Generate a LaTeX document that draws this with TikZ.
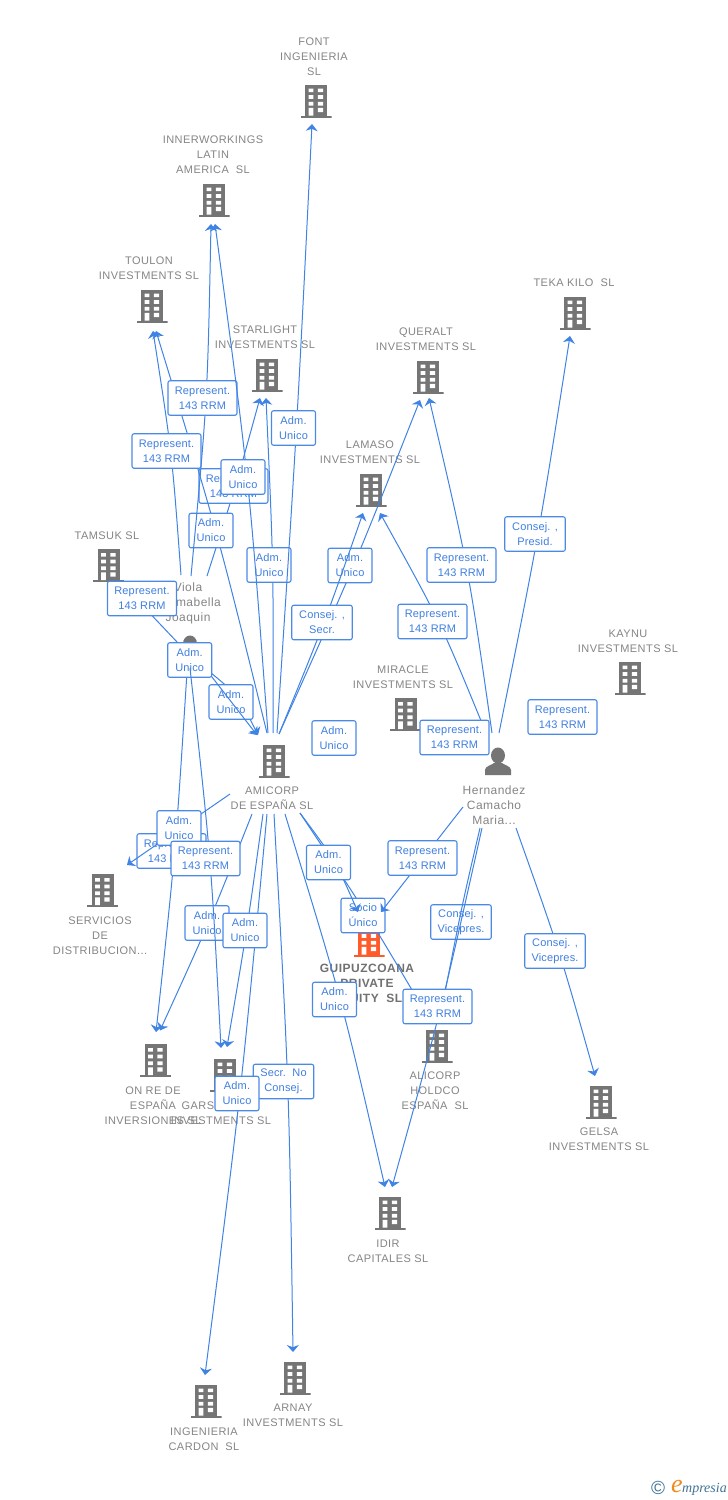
\documentclass[tikz,border=0pt]{standalone}
\usepackage{fontspec}
\usetikzlibrary{arrows.meta}
\setmainfont{Liberation Sans}
\newfontfamily\lblfont[LetterSpace=4]{Liberation Sans}
\newfontfamily\boxfont[LetterSpace=1.5]{Liberation Sans}
\newfontfamily\logofont{Liberation Serif}
\definecolor{edgeblue}{HTML}{3F83E4}
\definecolor{boxedge}{HTML}{4A8AE6}
\definecolor{boxtext}{HTML}{3F7FE0}
\definecolor{lblgray}{HTML}{858585}
\definecolor{icongray}{HTML}{757575}
\definecolor{iconred}{HTML}{FF5A2B}
\definecolor{logoteal}{HTML}{3F7396}
\definecolor{logoorange}{HTML}{F08A1D}
\tikzset{
  edge/.style={draw=edgeblue,line width=1pt,-{Stealth[length=7pt,width=12pt,inset=2.2pt]}},
  boxa/.style={draw=boxedge,line width=1.1pt,fill=white,rounded corners=2pt,inner sep=0pt,
    minimum height=34.5pt,align=center,text=boxtext,font=\boxfont\fontsize{11}{15}\selectfont,
    execute at begin node={\rule{0pt}{10pt}}},
  rep/.style={boxa,minimum width=69pt},
  adm/.style={boxa,minimum width=44pt},
  cons/.style={boxa,minimum width=60.5pt},
  lbl/.style={yshift=-1pt,text=lblgray,align=center,inner sep=0pt,font=\lblfont\fontsize{11}{15}\selectfont},
  lblp/.style={yshift=-1pt,text=lblgray,align=center,inner sep=0pt,font=\lblfont\fontsize{12}{15}\selectfont},
  lblb/.style={yshift=-1pt,text=lblgray!85!black,align=center,inner sep=0pt,font=\lblfont\bfseries\fontsize{12}{15}\selectfont},
  bicon/.style={minimum width=31pt,minimum height=33pt,inner sep=0pt,path picture={
    \fill[#1] (-11,-16.5) rectangle (11,14.5);
    \fill[#1] (-15.5,14.5) rectangle (15.5,16.5);
    \fill[white] (-7.3,-12.5) rectangle (-2.7,-8.8) (1.9,-12.5) rectangle (7,-8.8)
                 (-7.3,-5.8) rectangle (-2.7,-2.2) (1.9,-5.8) rectangle (7,-2.2)
                 (-7.3,0.8) rectangle (-2.7,4.5) (1.9,0.8) rectangle (7,4.5)
                 (-7.3,6.8) rectangle (-2.7,14.5) (1.9,6.8) rectangle (7,11.2);
  }},
  bicon/.default=icongray,
  picon/.style={minimum width=27pt,minimum height=28pt,inner sep=0pt,path picture={
    \fill[icongray] (0,-5.5) ellipse (7 and 8);
    \fill[icongray] (-13,14) -- (-13,9) .. controls (-13,5) and (-6,4) .. (-4,2) -- (4,2)
       .. controls (6,4) and (13,5) .. (13,9) -- (13,14) -- cycle;
  }},
}
\begin{document}
\begin{tikzpicture}[x=1pt,y=-1pt]
\useasboundingbox (0,0) rectangle (728,1500);
\fill[white] (0,0) rectangle (728,1500);
% ---- entities
\node[bicon] (font) at (316,101) {};
\node[bicon] (inner) at (214,200) {};
\node[bicon] (toulon) at (152,306) {};
\node[bicon] (teka) at (575,313) {};
\node[bicon] (star) at (267,375) {};
\node[bicon] (quer) at (428,377) {};
\node[bicon] (lama) at (371,490) {};
\node[bicon] (tams) at (108.5,565.5) {};
\node[bicon] (kay) at (630,678) {};
\node[bicon] (mirac) at (405.5,714.5) {};
\node[bicon] (am) at (274,761) {};
\node[bicon] (serv) at (102.5,890.5) {};
\node[bicon=iconred] (guip) at (369,940) {};
\node[bicon] (alic) at (437,1046) {};
\node[bicon] (onre) at (155.5,1060.5) {};
\node[bicon] (gars) at (225,1075) {};
\node[bicon] (gelsa) at (601,1102) {};
\node[bicon] (idir) at (390,1213) {};
\node[bicon] (ingen) at (206,1401) {};
\node[bicon] (arnay) at (295,1378) {};
\node[picon] (viola) at (190,649) {};
\node[picon] (hern) at (498,761) {};
% ---- texts
\node[lbl] (tfont) at (314,56) {FONT\\INGENIERIA\\SL};
\node[lbl] (tinner) at (213,154) {INNERWORKINGS\\LATIN\\AMERICA~~SL};
\node[lbl] (ttoulon) at (149,267.5) {TOULON\\INVESTMENTS SL};
\node[lbl] (tteka) at (574,282) {TEKA KILO~~SL};
\node[lbl] (tstar) at (265,336.5) {STARLIGHT\\INVESTMENTS SL};
\node[lbl] (tquer) at (426,338.5) {QUERALT\\INVESTMENTS SL};
\node[lbl] (tlama) at (370,451.5) {LAMASO\\INVESTMENTS SL};
\node[lbl] (ttams) at (107,535) {TAMSUK SL};
\node[lblp] (tviola) at (188,602) {Viola\\\phantom{Xxx}mabella\\Joaquin};
\node[lbl] (tkay) at (628,640.5) {KAYNU\\INVESTMENTS SL};
\node[lbl] (tmirac) at (403,676.5) {MIRACLE\\INVESTMENTS SL};
\node[lbl] (tam) at (272,797.5) {AMICORP\\DE ESPAÑA SL};
\node[lblp] (them) at (494,804) {Hernandez\\Camacho\\Maria...};
\node[lbl] (tserv) at (100,935) {SERVICIOS\\DE\\DISTRIBUCION...};
\node[lblb] (tguip) at (367,983) {GUIPUZCOANA\\PRIVATE\\EQUITY~~SL};
\node[lbl] (talic) at (435,1090) {ALICORP\\HOLDCO\\ESPAÑA~~SL};
\node[lbl] (tonre) at (153,1105) {ON RE DE\\ESPAÑA\\INVERSIONES SL};
\node[lbl] (tgars) at (221,1112.5) {GARS\phantom{XXXXXX}\\INVESTMENTS SL};
\node[lbl] (tgelsa) at (599,1138.5) {GELSA\\INVESTMENTS SL};
\node[lbl] (tidir) at (388,1250.5) {IDIR\\CAPITALES SL};
\node[lbl] (tingen) at (204,1438.5) {INGENIERIA\\CARDON~~SL};
\node[lbl] (tarnay) at (293,1414.5) {ARNAY\\INVESTMENTS SL};
% ---- connectors and their labels, in stacking order
\draw[edge] ([shift={(-12,-6)}]viola.center) -- ([shift={(15,20)}]tams.center);
\node[rep] (b1) at (142,598.5) {Represent.\\143 RRM};
\draw[edge] ([shift={(17,-73)}]viola.center) .. controls (235.5,487) .. ([shift={(-7,23)}]star.center);
\node[rep] (b2) at (233.5,486) {Represent.\\143 RRM};
\draw[edge] ([shift={(-7,-28)}]am.center) .. controls (217.5,532) .. ([shift={(4,25)}]toulon.center);
\node[adm] (b3) at (211,530.5) {Adm.\\Unico};
\draw[edge] ([shift={(-9,-74)}]viola.center) .. controls (172,453) .. ([shift={(1,25)}]toulon.center);
\node[rep] (b4) at (166.5,451) {Represent.\\143 RRM};
\draw[edge] ([shift={(1,-73)}]viola.center) .. controls (207.5,400) .. ([shift={(-3,24)}]inner.center);
\node[rep] (b5) at (202.5,398) {Represent.\\143 RRM};
\draw[edge] ([shift={(-1,-28)}]am.center) .. controls (273.5,565) .. ([shift={(-1,23)}]star.center);
\node[adm] (b6) at (269,565) {Adm.\\Unico};
\draw[edge] ([shift={(-6,-28)}]am.center) .. controls (249,478) .. ([shift={(1,24)}]inner.center);
\node[adm] (b7) at (243,477) {Adm.\\Unico};
\draw[edge] ([shift={(3,-28)}]am.center) .. controls (297,428) .. ([shift={(-4,23)}]font.center);
\node[adm] (b8) at (293.5,428) {Adm.\\Unico};
\draw[edge] ([shift={(5,-27)}]am.center) .. controls (354,567) .. ([shift={(-8,23)}]quer.center);
\node[adm] (b9) at (350,565.5) {Adm.\\Unico};
\draw[edge] ([shift={(5,-27)}]am.center) .. controls (324.5,623) .. ([shift={(-8,23)}]lama.center);
\node[cons] (b10) at (322,622.5) {Consej. ,\\Secr.};
\draw[edge] ([shift={(-12,-28)}]hern.center) .. controls (441,623) .. ([shift={(9,23)}]lama.center);
\node[rep] (b11) at (432.5,621.5) {Represent.\\143 RRM};
\draw[edge] ([shift={(-6,-28)}]hern.center) .. controls (468,565) .. ([shift={(1,21)}]quer.center);
\node[rep] (b12) at (461.5,565) {Represent.\\143 RRM};
\draw[edge] ([shift={(1,-28)}]hern.center) .. controls (539,534) .. ([shift={(-5,23)}]teka.center);
\node[cons] (b13) at (535,534) {Consej. ,\\Presid.};
\node[rep] (b14) at (454.5,737.5) {Represent.\\143 RRM};
\node[adm] (b15) at (334,738) {Adm.\\Unico};
\node[rep] (b16) at (562.5,717) {Represent.\\143 RRM};
\draw[edge] ([shift={(-3,23)}]viola.center) .. controls (175.5,852) .. ([shift={(0.5,-28.5)}]onre.center);
\node[rep] (b17) at (171.5,851) {Represent.\\143 RRM};
\draw[edge] ([shift={(15,19)}]viola.center) .. controls (238,695) .. ([shift={(-16,-26)}]am.center);
\node[adm] (b18) at (231,702) {Adm.\\Unico};
\draw[edge] ([shift={(15,19)}]viola.center) -- ([shift={(-17,-26)}]am.center);
\node[adm] (b19) at (189.7,660) {Adm.\\Unico};
\draw[edge] ([shift={(-44,33)}]am.center) -- ([shift={(24.5,-25.5)}]serv.center);
\node[adm] (b20) at (179,828) {Adm.\\Unico};
\draw[edge] ([shift={(-22,53)}]am.center) .. controls (209,923) .. ([shift={(4.5,-30)}]onre.center);
\node[adm] (b21) at (207,923) {Adm.\\Unico};
\draw[edge] ([shift={(0,19)}]viola.center) .. controls (211,858) .. ([shift={(-4,-27)}]gars.center);
\node[rep] (b22) at (205.5,858.5) {Represent.\\143 RRM};
\draw[edge] ([shift={(-11,53)}]am.center) .. controls (247,930) .. ([shift={(2,-28)}]gars.center);
\draw[edge] ([shift={(-7,53)}]am.center) .. controls (241,1094) .. ([shift={(-1,-26)}]ingen.center);
\node[adm] (b23) at (245,930.5) {Adm.\\Unico};
\draw[edge] ([shift={(0,53)}]am.center) .. controls (289,1083) .. ([shift={(-2,-26)}]arnay.center);
\node[cons] (b24) at (283.5,1081.5) {Secr.~~No\\Consej.};
\node[adm] (b25) at (237,1093.5) {Adm.\\Unico};
\draw[edge,-] ([shift={(26,52)}]am.center) .. controls (366,912) .. ([shift={(-12,-34)}]alic.center);
\node[adm] (b26) at (363,915.5) {Socio\\Único};
\draw[edge] ([shift={(26,52)}]am.center) .. controls (335,860) .. ([shift={(-11,-28)}]guip.center);
\node[adm] (b27) at (328.5,862.5) {Adm.\\Unico};
\draw[edge] ([shift={(-35,46)}]hern.center) -- ([shift={(12,-28)}]guip.center);
\node[rep] (b28) at (422.5,858) {Represent.\\143 RRM};
\node[cons] (b29) at (461,922) {Consej. ,\\Vicepres.};
\draw[edge] ([shift={(-18,67)}]hern.center) .. controls (462,905) .. ([shift={(3,-28)}]alic.center);
\draw[edge] ([shift={(-16,67)}]hern.center) .. controls (442,1007) .. ([shift={(2,-26)}]idir.center);
\draw[edge] ([shift={(11,53)}]am.center) .. controls (342,1000) .. ([shift={(-5,-26)}]idir.center);
\node[adm] (b30) at (334.5,999.5) {Adm.\\Unico};
\node[rep] (b31) at (437.5,1006.5) {Represent.\\143 RRM};
\draw[edge] ([shift={(18,67)}]hern.center) .. controls (560,952) .. ([shift={(-6,-26)}]gelsa.center);
\node[cons] (b32) at (555,951) {Consej. ,\\Vicepres.};
% ---- logo
\node[text=logoteal,inner sep=0pt,font=\fontsize{19}{19}\selectfont] (logoc) at (658,1488) {©};
\node[text=logoorange,inner sep=0pt,font=\logofont\itshape\fontsize{26}{26}\selectfont] (logoe) at (677,1486) {e};
\node[text=logoteal,inner sep=0pt,anchor=west,font=\logofont\itshape\fontsize{14}{14}\selectfont] (logot) at (682,1489) {mpresia};
\end{tikzpicture}
\end{document}
